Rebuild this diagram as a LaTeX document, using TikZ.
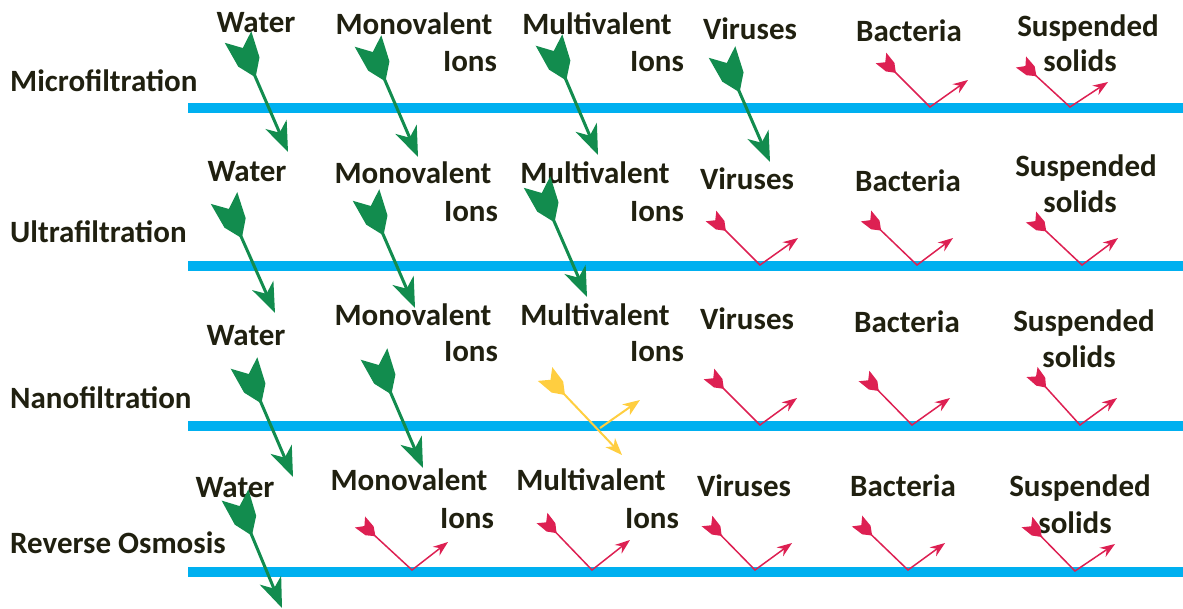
\documentclass[tikz,border=0pt]{standalone}
\usepackage{fontspec}
\setmainfont{Carlito}
\usetikzlibrary{arrows.meta}

\definecolor{membrane}{RGB}{0,176,240}
\definecolor{passgreen}{RGB}{18,140,78}
\definecolor{stopred}{RGB}{221,32,82}
\definecolor{partyellow}{RGB}{255,206,64}
\definecolor{labeltext}{RGB}{32,32,16}

% feather at the tail of an arrow
\pgfdeclarearrow{
	name = Fletch,
	parameters = {\the\pgfarrowlength,\the\pgfarrowwidth,\the\pgfarrowinset},
	setup code = {
		\pgfarrowssettipend{0pt}
		\pgfarrowssetbackend{-\pgfarrowlength}
		\pgfarrowssetlineend{-.5\pgfarrowlength}
		\pgfarrowssavethe\pgfarrowlength
		\pgfarrowssavethe\pgfarrowwidth
		\pgfarrowssavethe\pgfarrowinset
	},
	drawing code = {
		\pgfpathmoveto{\pgfqpoint{0pt}{.5\pgfarrowwidth}}
		\pgfpathlineto{\pgfqpoint{-\pgfarrowinset}{0pt}}
		\pgfpathlineto{\pgfqpoint{0pt}{-.5\pgfarrowwidth}}
		\pgfpathlineto{\pgfqpoint{-.62\pgfarrowlength}{-.4\pgfarrowwidth}}
		\pgfpathlineto{\pgfqpoint{-\pgfarrowlength}{0pt}}
		\pgfpathlineto{\pgfqpoint{-.62\pgfarrowlength}{.4\pgfarrowwidth}}
		\pgfpathclose
		\pgfusepathqfill
	},
	defaults = {length=40pt, width=24pt, inset=10pt}
}

\begin{document}
\begin{tikzpicture}[x=1pt,y=-1pt,
	word_node/.style={font=\bfseries\fontsize{31}{37}\selectfont,text=labeltext,inner sep=0pt,anchor=base},
	row_node/.style={word_node,anchor=base west},
	passes/.style={draw=passgreen,line width=3pt,{Fletch[length=44pt,width=29pt,inset=12pt]}-{Stealth[length=30pt,width=23pt,inset=9pt]}},
	partly/.style={draw=partyellow,line width=2pt,{Fletch[length=29pt,width=20pt,inset=8pt]}-{Stealth[length=17pt,width=13pt,inset=5pt]}},
	partly_tip/.style={draw=partyellow,line width=2pt,-{Stealth[length=17pt,width=13pt,inset=5pt]}},
	stops/.style={draw=stopred,line width=1.5pt,line join=miter,{Fletch[length=21pt,width=15pt,inset=6pt]}-{Stealth[length=15pt,width=11pt,inset=5pt]}}]

	\useasboundingbox (0,0) rectangle (1183,609);

	% membranes
	\fill[membrane] (188,103) rectangle (1183,113);
	\fill[membrane] (188,261) rectangle (1183,271);
	\fill[membrane] (188,421) rectangle (1183,431);
	\fill[membrane] (188,567) rectangle (1183,577);

	% row labels
	\node[row_node] (mf) at (10,92) {Microfiltration};
	\node[row_node] (uf) at (10,243) {Ultrafiltration};
	\node[row_node] (nf) at (10,408) {Nanofiltration};
	\node[row_node] (ro) at (10,553) {Reverse Osmosis};

	% microfiltration words
	\node[word_node] (mf-water) at (256,33) {Water};
	\node[word_node] (mf-mono) at (414,35) {Monovalent};
	\node[word_node] (mf-monoions) at (470,72) {Ions};
	\node[word_node] (mf-multi) at (597,35) {Multivalent};
	\node[word_node] (mf-multiions) at (657,72) {Ions};
	\node[word_node] (mf-virus) at (750,40) {Viruses};
	\node[word_node] (mf-bact) at (909,42) {Bacteria};
	\node[word_node] (mf-susp) at (1088,37) {Suspended};
	\node[word_node] (mf-solid) at (1080,72) {solids};

	% ultrafiltration words
	\node[word_node] (uf-water) at (247,182) {Water};
	\node[word_node] (uf-mono) at (413,184) {Monovalent};
	\node[word_node] (uf-monoions) at (471,222) {Ions};
	\node[word_node] (uf-multi) at (595,184) {Multivalent};
	\node[word_node] (uf-multiions) at (657,222) {Ions};
	\node[word_node] (uf-virus) at (747,190) {Viruses};
	\node[word_node] (uf-bact) at (908,192) {Bacteria};
	\node[word_node] (uf-susp) at (1086,177) {Suspended};
	\node[word_node] (uf-solid) at (1080,213) {solids};

	% nanofiltration words
	\node[word_node] (nf-water) at (246,346) {Water};
	\node[word_node] (nf-mono) at (413,326) {Monovalent};
	\node[word_node] (nf-monoions) at (471,362) {Ions};
	\node[word_node] (nf-multi) at (595,326) {Multivalent};
	\node[word_node] (nf-multiions) at (657,362) {Ions};
	\node[word_node] (nf-virus) at (747,330) {Viruses};
	\node[word_node] (nf-bact) at (907,333) {Bacteria};
	\node[word_node] (nf-susp) at (1084,332) {Suspended};
	\node[word_node] (nf-solid) at (1079,368) {solids};

	% reverse osmosis words
	\node[word_node] (ro-water) at (235,497) {Water};
	\node[word_node] (ro-mono) at (409,490) {Monovalent};
	\node[word_node] (ro-monoions) at (467,528) {Ions};
	\node[word_node] (ro-multi) at (591,490) {Multivalent};
	\node[word_node] (ro-multiions) at (652,528) {Ions};
	\node[word_node] (ro-virus) at (744,496) {Viruses};
	\node[word_node] (ro-bact) at (903,496) {Bacteria};
	\node[word_node] (ro-susp) at (1080,496) {Suspended};
	\node[word_node] (ro-solid) at (1075,533) {solids};

	% arrow points, microfiltration
	\coordinate (mf-water-a) at (238,37);  \coordinate (mf-water-b) at (288,152);
	\coordinate (mf-mono-a) at (368,41);   \coordinate (mf-mono-b) at (418,157);
	\coordinate (mf-multi-a) at (549,40);  \coordinate (mf-multi-b) at (598,155);
	\coordinate (mf-virus-a) at (722,52);  \coordinate (mf-virus-b) at (770,162);
	\coordinate (mf-bact-a) at (881,58);   \coordinate (mf-bact-v) at (930,107);  \coordinate (mf-bact-b) at (968,80);
	\coordinate (mf-solid-a) at (1021,62); \coordinate (mf-solid-v) at (1070,107); \coordinate (mf-solid-b) at (1108,82);

	% arrow points, ultrafiltration
	\coordinate (uf-water-a) at (224,198); \coordinate (uf-water-b) at (275,313);
	\coordinate (uf-mono-a) at (366,195);  \coordinate (uf-mono-b) at (415,308);
	\coordinate (uf-multi-a) at (537,182); \coordinate (uf-multi-b) at (587,297);
	\coordinate (uf-virus-a) at (711,216); \coordinate (uf-virus-v) at (760,265); \coordinate (uf-virus-b) at (798,238);
	\coordinate (uf-bact-a) at (866,216);  \coordinate (uf-bact-v) at (917,265);  \coordinate (uf-bact-b) at (953,238);
	\coordinate (uf-solid-a) at (1031,217); \coordinate (uf-solid-v) at (1082,265); \coordinate (uf-solid-b) at (1118,238);

	% arrow points, nanofiltration
	\coordinate (nf-water-a) at (244,363); \coordinate (nf-water-b) at (293,477);
	\coordinate (nf-mono-a) at (374,354);  \coordinate (nf-mono-b) at (423,468);
	\coordinate (nf-multi-a) at (545,374); \coordinate (nf-multi-v) at (600,428); \coordinate (nf-multi-b) at (622,455); \coordinate (nf-multi-c) at (640,400);
	\coordinate (nf-virus-a) at (709,374); \coordinate (nf-virus-v) at (760,425); \coordinate (nf-virus-b) at (797,398);
	\coordinate (nf-bact-a) at (864,376);  \coordinate (nf-bact-v) at (912,425);  \coordinate (nf-bact-b) at (950,398);
	\coordinate (nf-solid-a) at (1032,372); \coordinate (nf-solid-v) at (1080,425); \coordinate (nf-solid-b) at (1117,398);

	% arrow points, reverse osmosis
	\coordinate (ro-water-a) at (235,495); \coordinate (ro-water-b) at (282,608);
	\coordinate (ro-mono-a) at (360,522);  \coordinate (ro-mono-v) at (412,570);  \coordinate (ro-mono-b) at (448,542);
	\coordinate (ro-multi-a) at (542,518); \coordinate (ro-multi-v) at (592,570); \coordinate (ro-multi-b) at (630,540);
	\coordinate (ro-virus-a) at (707,521); \coordinate (ro-virus-v) at (755,570); \coordinate (ro-virus-b) at (792,543);
	\coordinate (ro-bact-a) at (857,521);  \coordinate (ro-bact-v) at (908,570);  \coordinate (ro-bact-b) at (945,543);
	\coordinate (ro-solid-a) at (1027,522); \coordinate (ro-solid-v) at (1075,571); \coordinate (ro-solid-b) at (1115,544);

	% what goes through
	\draw[passes] (mf-water-a) -- (mf-water-b);
	\draw[passes] (mf-mono-a) -- (mf-mono-b);
	\draw[passes] (mf-multi-a) -- (mf-multi-b);
	\draw[passes] (mf-virus-a) -- (mf-virus-b);
	\draw[passes] (uf-water-a) -- (uf-water-b);
	\draw[passes] (uf-mono-a) -- (uf-mono-b);
	\draw[passes] (uf-multi-a) -- (uf-multi-b);
	\draw[passes] (nf-water-a) -- (nf-water-b);
	\draw[passes] (nf-mono-a) -- (nf-mono-b);
	\draw[passes] (ro-water-a) -- (ro-water-b);

	% partly through
	\draw[partly] (nf-multi-a) -- (nf-multi-b);
	\draw[partly_tip] (nf-multi-v) -- (nf-multi-c);

	% what is held back
	\draw[stops] (mf-bact-a) -- (mf-bact-v) -- (mf-bact-b);
	\draw[stops] (mf-solid-a) -- (mf-solid-v) -- (mf-solid-b);
	\draw[stops] (uf-virus-a) -- (uf-virus-v) -- (uf-virus-b);
	\draw[stops] (uf-bact-a) -- (uf-bact-v) -- (uf-bact-b);
	\draw[stops] (uf-solid-a) -- (uf-solid-v) -- (uf-solid-b);
	\draw[stops] (nf-virus-a) -- (nf-virus-v) -- (nf-virus-b);
	\draw[stops] (nf-bact-a) -- (nf-bact-v) -- (nf-bact-b);
	\draw[stops] (nf-solid-a) -- (nf-solid-v) -- (nf-solid-b);
	\draw[stops] (ro-mono-a) -- (ro-mono-v) -- (ro-mono-b);
	\draw[stops] (ro-multi-a) -- (ro-multi-v) -- (ro-multi-b);
	\draw[stops] (ro-virus-a) -- (ro-virus-v) -- (ro-virus-b);
	\draw[stops] (ro-bact-a) -- (ro-bact-v) -- (ro-bact-b);
	\draw[stops] (ro-solid-a) -- (ro-solid-v) -- (ro-solid-b);

\end{tikzpicture}
\end{document}
